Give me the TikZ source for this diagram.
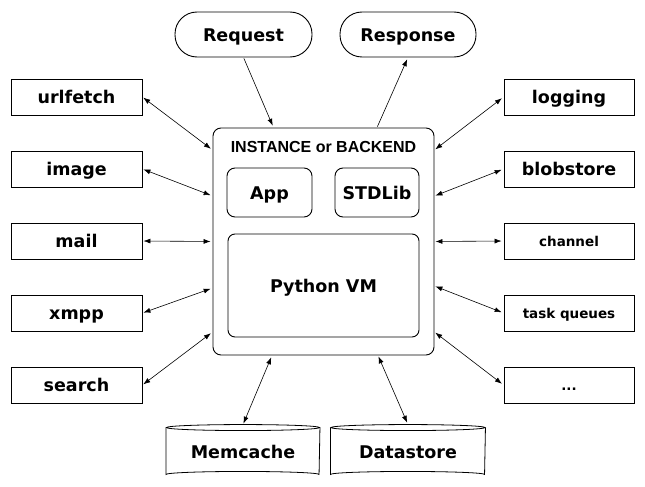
\documentclass[tikz,border=0pt]{standalone}
\usepackage{fontspec}
\setmainfont{DejaVu Sans}
\newfontfamily\arialf{Liberation Sans}
\usetikzlibrary{arrows.meta,calc}
\begin{document}
\begin{tikzpicture}[x=1pt,y=-1pt,
  line width=0.9pt,
  bigtext/.style={font=\fontsize{17.5}{20}\selectfont\bfseries, text height=13.5pt, text depth=0pt},
  sidebox/.style={draw, minimum width=131pt, minimum height=36pt, inner sep=0pt, bigtext},
  smallbox/.style={draw, minimum width=131pt, minimum height=36pt, inner sep=0pt, font=\fontsize{13.5}{15}\selectfont\bfseries, text height=10pt, text depth=0pt},
  pill/.style={draw, rounded corners=22pt, minimum width=137pt, minimum height=45pt, inner sep=0pt, bigtext},
  rbox/.style={draw, rounded corners=8pt, inner sep=0pt, bigtext},
  cyl/.style={minimum width=153pt, minimum height=52pt, inner sep=0pt, bigtext, text height=15pt},
  cylline/.style={line width=0.8pt},
  conn/.style={line width=0.6pt, {Latex[length=7pt,width=5pt]}-{Latex[length=7pt,width=5pt]}, shorten <=1pt, shorten >=2pt},
  oneway/.style={line width=0.6pt, -{Latex[length=7pt,width=5pt]}, shorten <=1pt, shorten >=2pt}
]
\useasboundingbox (0,0) rectangle (645,487);

% main box
\node[rbox, minimum width=221pt, minimum height=227pt] (main) at (323.5,241.5) {};
\node[font=\arialf\fontsize{16}{18}\selectfont\bfseries, anchor=base, inner sep=0pt] (title) at (323.5,152.7) {INSTANCE or BACKEND};
\node[rbox, minimum width=85pt, minimum height=49pt] (app) at (269.5,192.5) {App};
\node[rbox, minimum width=84pt, minimum height=49pt] (std) at (377,192.5) {STDLib};
\node[rbox, rounded corners=7pt, minimum width=191pt, minimum height=103pt] (vm) at (323.5,285.5) {Python VM};

% request/response
\node[pill] (req) at (243.5,34.5) {Request};
\node[pill, minimum width=136pt] (resp) at (408,34.5) {Response};

% left boxes
\node[sidebox] (urlfetch) at (76.5,97) {urlfetch};
\node[sidebox] (image) at (76.5,169) {image};
\node[sidebox] (mail) at (76.5,241) {mail};
\node[sidebox] (xmpp) at (76.5,313) {xmpp};
\node[sidebox] (search) at (76.5,385) {search};

% right boxes
\node[sidebox, minimum width=130pt] (logging) at (569,97) {logging};
\node[sidebox, minimum width=130pt] (blobstore) at (569,169) {blobstore};
\node[smallbox, minimum width=130pt] (channel) at (569,241) {channel};
\node[smallbox, minimum width=130pt] (tasks) at (569,313) {task queues};
\node[smallbox, minimum width=130pt] (more) at (569,385) {...};

% cylinders
\node[cyl] (mem) at (243,451) {Memcache};
\node[cyl, minimum width=154pt] (ds) at (408,451) {Datastore};
\foreach \c/\r in {mem/76.5,ds/77}{
  \draw[cylline] ($(\c.north west)+(0,3)$) -- ($(\c.south west)+(0,-3)$)
    arc[start angle=180, end angle=0, x radius=\r pt, y radius=3pt]
    -- ($(\c.north east)+(0,3)$);
  \draw[cylline] ($(\c.north)+(0,3)$) ellipse[x radius=\r pt, y radius=3pt];
}

% connectors
\draw[oneway] (req.south) -- ([xshift=-50pt]main.north);
\draw[oneway] ([xshift=53.5pt]main.north) -- (resp.south);
\draw[conn] (mem.north) -- ([xshift=-51.5pt]main.south);
\draw[conn] ([xshift=54.5pt]main.south) -- (ds.north);

\draw[conn] (urlfetch.east) -- ([yshift=91.5pt]main.west);
\draw[conn] (image.east) -- ([yshift=45.5pt]main.west);
\draw[conn] (mail.east) -- (main.west);
\draw[conn] (xmpp.east) -- ([yshift=-46.5pt]main.west);
\draw[conn] (search.east) -- ([yshift=-90.5pt]main.west);

\draw[conn] ([yshift=91.5pt]main.east) -- (logging.west);
\draw[conn] ([yshift=45.5pt]main.east) -- (blobstore.west);
\draw[conn] (main.east) -- (channel.west);
\draw[conn] ([yshift=-44.5pt]main.east) -- (tasks.west);
\draw[conn] ([yshift=-90.5pt]main.east) -- (more.west);
\end{tikzpicture}
\end{document}
